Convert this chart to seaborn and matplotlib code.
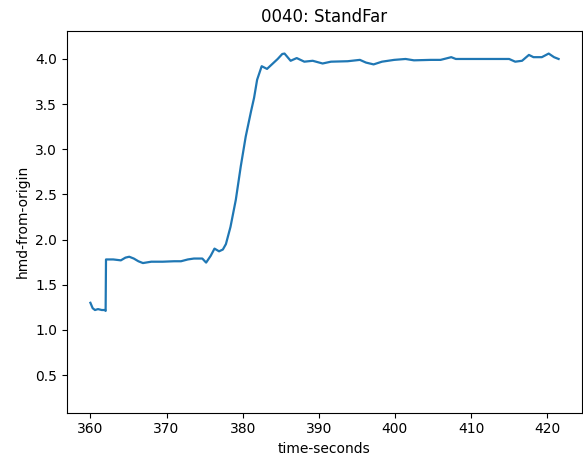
import matplotlib
matplotlib.use("Agg")
import matplotlib.pyplot as plt
import seaborn as sns
import pandas as pd

# Datos (tiempo en segundos, distancia del casco al origen)
time_seconds = [360.0, 360.3, 360.6, 361.0, 361.5, 361.9, 362.0, 362.05, 363.0, 364.0,
                364.6, 365.1, 365.7, 366.3, 366.9, 368.0, 369.5, 371.0, 371.9, 372.8,
                373.6, 374.7, 375.2, 375.8, 376.3, 376.9, 377.4, 377.8, 378.4, 379.1,
                379.75, 380.4, 381.1, 381.5, 381.9, 382.5, 383.2, 383.9, 384.6, 385.2,
                385.5, 385.8, 386.3, 387.1, 388.1, 389.2, 390.5, 391.6, 393.8, 395.4,
                396.2, 397.2, 398.3, 399.9, 401.4, 402.5, 404.7, 406.0, 407.4, 408.0,
                409.9, 412.1, 415.0, 415.8, 416.7, 417.6, 418.2, 419.3, 420.2, 420.9,
                421.5]
hmd_from_origin = [1.30, 1.24, 1.22, 1.23, 1.22, 1.22, 1.21, 1.78, 1.78, 1.77,
                   1.80, 1.81, 1.79, 1.76, 1.74, 1.755, 1.755, 1.76, 1.76, 1.78,
                   1.79, 1.79, 1.745, 1.82, 1.90, 1.87, 1.89, 1.95, 2.14, 2.44,
                   2.81, 3.14, 3.42, 3.57, 3.77, 3.92, 3.89, 3.945, 4.00, 4.055,
                   4.06, 4.03, 3.98, 4.01, 3.97, 3.98, 3.95, 3.97, 3.975, 3.99,
                   3.96, 3.94, 3.97, 3.99, 4.00, 3.985, 3.99, 3.99, 4.02, 4.00,
                   4.00, 4.00, 4.00, 3.97, 3.98, 4.045, 4.02, 4.02, 4.06, 4.02,
                   4.00]

df = pd.DataFrame({"time-seconds": time_seconds, "hmd-from-origin": hmd_from_origin})

fig = plt.figure(figsize=(5.83, 4.66), dpi=100)
ax = fig.add_axes([0.1149, 0.1144, 0.8834, 0.8197])
sns.lineplot(data=df, x="time-seconds", y="hmd-from-origin", ax=ax,
             sort=False, estimator=None, color="#1f77b4", linewidth=1.6)
ax.set_ylim(0.083, 4.313)
ax.set_xticks([360, 370, 380, 390, 400, 410, 420])
ax.set_yticks([0.5, 1.0, 1.5, 2.0, 2.5, 3.0, 3.5, 4.0])
ax.set_title("0040: StandFar")

fig.savefig("out.png", dpi=100)
plt.close(fig)
